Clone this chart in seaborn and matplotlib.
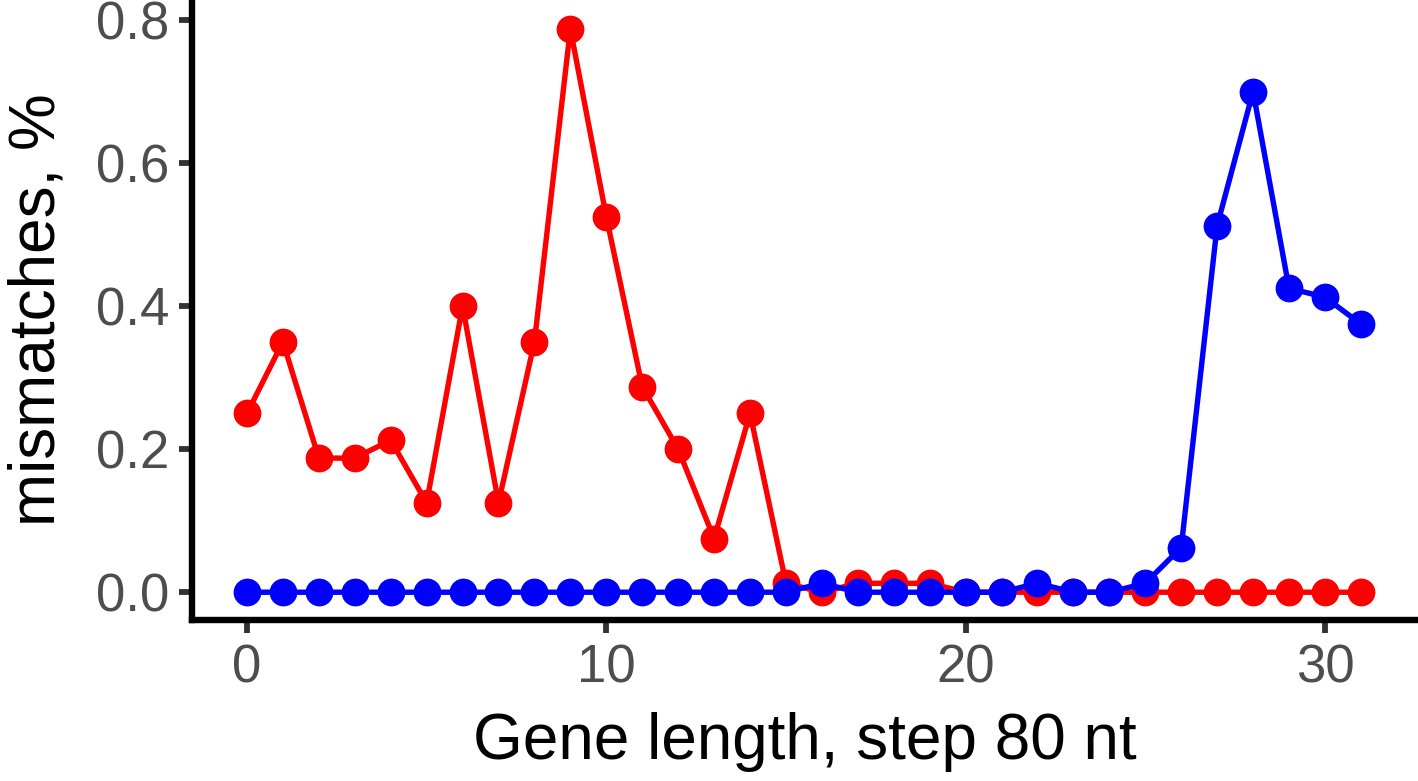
import numpy as np
import pandas as pd
import matplotlib
matplotlib.use("Agg")
import matplotlib.pyplot as plt
import seaborn as sns

positions = list(range(32))
red_values = [0.25, 0.35, 0.1875, 0.1875, 0.2125, 0.125, 0.40, 0.125, 0.35, 0.7875,
              0.525, 0.2875, 0.20, 0.075, 0.25, 0.0125, 0.0, 0.0125, 0.0125, 0.0125,
              0.0, 0.0, 0.0, 0.0, 0.0, 0.0, 0.0, 0.0, 0.0, 0.0, 0.0, 0.0]
blue_values = [0.0, 0.0, 0.0, 0.0, 0.0, 0.0, 0.0, 0.0, 0.0, 0.0,
               0.0, 0.0, 0.0, 0.0, 0.0, 0.0, 0.0125, 0.0, 0.0, 0.0,
               0.0, 0.0, 0.0125, 0.0, 0.0, 0.0125, 0.0625, 0.5125, 0.70, 0.425,
               0.4125, 0.375]
series_names = ["red", "blue"]
series_colors = {"red": "#FF0000", "blue": "#0000FF"}
x_ticks = [0, 10, 20, 30]
y_ticks = [0.0, 0.2, 0.4, 0.6, 0.8]

df = pd.DataFrame({
    "x": positions * 2,
    "y": red_values + blue_values,
    "series": ["red"] * len(positions) + ["blue"] * len(positions),
})

sns.set_style("white")
plt.rcParams["font.family"] = ["Liberation Sans", "DejaVu Sans"]

fig = plt.figure(figsize=(14.18, 7.81), dpi=100)
ax = fig.add_axes([0.1354, 0.206, 0.8646, 0.794])

sns.lineplot(data=df, x="x", y="y", hue="series", hue_order=series_names,
             palette=series_colors, marker="o", markersize=20, markeredgewidth=0,
             linewidth=3.9, legend=False, ax=ax)

ax.set_xlim(-1.53, 32.59)
ax.set_ylim(-0.039, 0.828)
ax.set_xticks(x_ticks)
ax.set_yticks(y_ticks)
ax.set_yticklabels([f"{v:.1f}" for v in y_ticks])

for side in ["top", "right"]:
    ax.spines[side].set_visible(False)
for side in ["left", "bottom"]:
    ax.spines[side].set_color("black")
    ax.spines[side].set_linewidth(4.6)

ax.tick_params(axis="both", which="major", length=9.5, width=4.2, color="#333333",
               labelcolor="#4D4D4D", labelsize=38, pad=7, direction="out",
               left=True, bottom=True)
ax.set_xlabel("Gene length, step 80 nt", fontsize=46, color="black", labelpad=14)
ax.set_ylabel("mismatches, %", fontsize=46, color="black", labelpad=20)

fig.savefig("out.png", dpi=100)
